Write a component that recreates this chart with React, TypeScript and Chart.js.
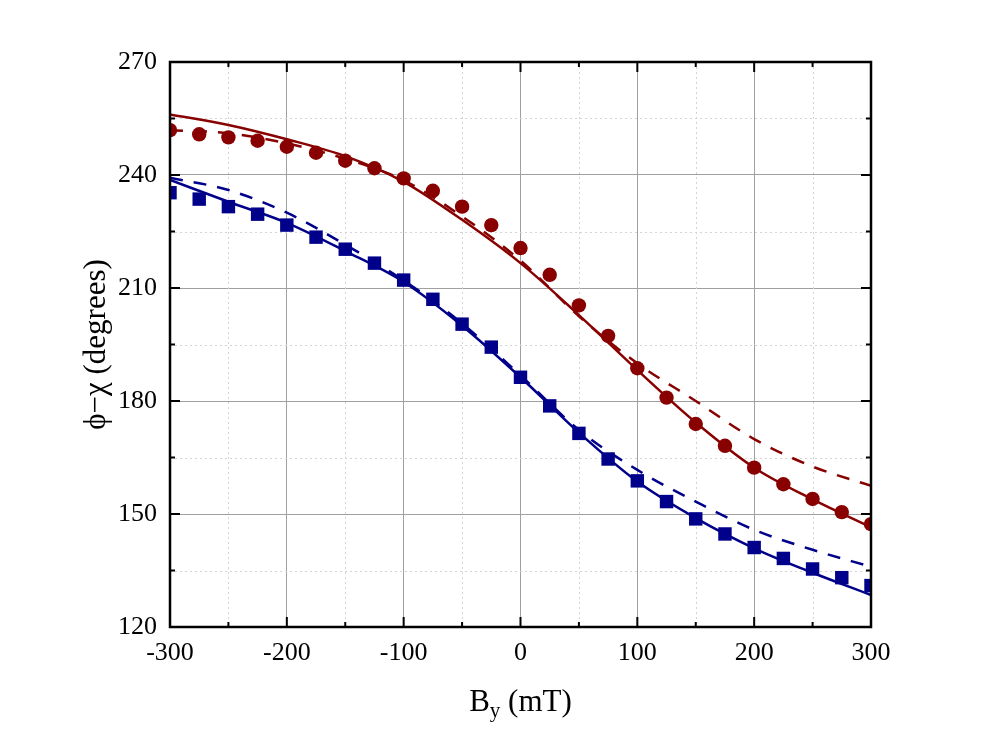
import React, { useEffect, useRef } from "react";
import { Chart, registerables } from "chart.js";

Chart.register(...registerables);

const FONT = "'Liberation Serif', 'Times New Roman', serif";
const RED = "#880000";
const BLUE = "#00008b";

// measured points (mT, degrees)
const fieldMT = [
  -300, -275, -250, -225, -200, -175, -150, -125, -100, -75, -50, -25, 0,
  25, 50, 75, 100, 125, 150, 175, 200, 225, 250, 275, 300,
];
const redPoints = [
  251.9, 250.8, 250.0, 249.1, 247.5, 245.9, 243.8, 241.8, 239.1, 235.8, 231.6,
  226.7, 220.6, 213.5, 205.4, 197.3, 188.7, 180.9, 173.9, 168.1, 162.3, 157.9,
  154.0, 150.5, 147.3,
];
const bluePoints = [
  235.3, 233.6, 231.6, 229.6, 226.7, 223.5, 220.3, 216.6, 212.1, 207.0, 200.4,
  194.3, 186.3, 178.7, 171.4, 164.6, 158.8, 153.3, 148.7, 144.7, 141.1, 138.2,
  135.4, 133.1, 131.0,
];

// model curves
const curveMT = [-300, -250, -200, -150, -100, -50, 0, 50, 100, 150, 200, 250, 300];
const redSolid = [256.1, 253.3, 249.5, 245.0, 238.2, 228.1, 216.6, 202.8, 188.2, 174.3, 162.3, 153.9, 146.5];
const redDashed = [251.9, 251.1, 248.4, 244.3, 238.6, 229.0, 217.3, 202.5, 190.0, 180.0, 169.9, 162.6, 157.5];
const blueSolid = [238.7, 232.9, 227.3, 219.8, 211.6, 200.0, 186.3, 171.6, 158.6, 148.9, 140.9, 134.4, 128.5];
const blueDashed = [239.3, 236.0, 230.0, 221.5, 212.0, 200.6, 186.8, 172.3, 161.7, 153.3, 145.8, 140.5, 136.0];

const xMin = -300;
const xMax = 300;
const yMin = 120;
const yMax = 270;

const xTicks = [-300, -250, -200, -150, -100, -50, 0, 50, 100, 150, 200, 250, 300];
const yTicks = [120, 135, 150, 165, 180, 195, 210, 225, 240, 255, 270];

const toXY = (xs: number[], ys: number[]) => xs.map((x, i) => ({ x, y: ys[i] }));

const framePlugin = {
  id: "originFrame",
  beforeDatasetsDraw(chart: any) {
    const { ctx, chartArea: a, scales } = chart;
    ctx.save();
    ctx.strokeStyle = "#d4d4d4";
    ctx.lineWidth = 1;
    ctx.setLineDash([2, 3]);
    xTicks.forEach((v) => {
      if (v % 100 === 0) return;
      const px = Math.round(scales.x.getPixelForValue(v)) + 0.5;
      ctx.beginPath();
      ctx.moveTo(px, a.top);
      ctx.lineTo(px, a.bottom);
      ctx.stroke();
    });
    yTicks.forEach((v) => {
      if ((v - yMin) % 30 === 0) return;
      const py = Math.round(scales.y.getPixelForValue(v)) + 0.5;
      ctx.beginPath();
      ctx.moveTo(a.left, py);
      ctx.lineTo(a.right, py);
      ctx.stroke();
    });
    ctx.restore();
  },
  afterDatasetsDraw(chart: any) {
    const { ctx, chartArea: a, scales } = chart;
    ctx.save();
    ctx.strokeStyle = "#000";
    ctx.lineWidth = 2.5;
    ctx.strokeRect(a.left, a.top, a.right - a.left, a.bottom - a.top);
    ctx.lineWidth = 2;
    xTicks.forEach((v) => {
      const len = v % 100 === 0 ? 10 : 5;
      const px = scales.x.getPixelForValue(v);
      ctx.beginPath();
      ctx.moveTo(px, a.bottom);
      ctx.lineTo(px, a.bottom - len);
      ctx.moveTo(px, a.top);
      ctx.lineTo(px, a.top + len);
      ctx.stroke();
    });
    yTicks.forEach((v) => {
      const len = (v - yMin) % 30 === 0 ? 10 : 5;
      const py = scales.y.getPixelForValue(v);
      ctx.beginPath();
      ctx.moveTo(a.left, py);
      ctx.lineTo(a.left + len, py);
      ctx.moveTo(a.right, py);
      ctx.lineTo(a.right - len, py);
      ctx.stroke();
    });
    ctx.restore();
  },
  afterDraw(chart: any) {
    const { ctx, chartArea: a } = chart;
    ctx.save();
    ctx.fillStyle = "#000";
    ctx.textBaseline = "alphabetic";
    // x title with subscript
    const big = `31px ${FONT}`;
    const small = `21px ${FONT}`;
    ctx.font = big;
    const wB = ctx.measureText("B").width;
    const wRest = ctx.measureText(" (mT)").width;
    ctx.font = small;
    const wy = ctx.measureText("y").width;
    const total = wB + wy + wRest;
    let x = (a.left + a.right) / 2 - total / 2;
    const base = 711;
    ctx.font = big;
    ctx.fillText("B", x, base);
    x += wB;
    ctx.font = small;
    ctx.fillText("y", x, base + 6);
    x += wy;
    ctx.font = big;
    ctx.fillText(" (mT)", x, base);
    // y title
    ctx.translate(97, (a.top + a.bottom) / 2);
    ctx.rotate(-Math.PI / 2);
    ctx.textAlign = "center";
    ctx.textBaseline = "middle";
    ctx.font = big;
    ctx.fillText("\u03d5\u2212\u03c7 (degrees)", 0, 0);
    ctx.restore();
  },
};

const App: React.FC = () => {
  const canvasRef = useRef<HTMLCanvasElement>(null);
  const chartRef = useRef<Chart>();

  useEffect(() => {
    document.body.style.margin = "0";
    const ctx = canvasRef.current?.getContext("2d");
    if (!ctx) return;
    chartRef.current = new Chart(ctx, {
      type: "line",
      data: {
        datasets: [
          {
            data: toXY(curveMT, redSolid),
            borderColor: RED,
            borderWidth: 2.5,
            pointRadius: 0,
            cubicInterpolationMode: "monotone",
            clip: 0,
          },
          {
            data: toXY(curveMT, redDashed),
            borderColor: RED,
            borderWidth: 2.5,
            borderDash: [13, 11],
            pointRadius: 0,
            cubicInterpolationMode: "monotone",
            clip: 0,
          },
          {
            data: toXY(curveMT, blueSolid),
            borderColor: BLUE,
            borderWidth: 2.5,
            pointRadius: 0,
            cubicInterpolationMode: "monotone",
            clip: 0,
          },
          {
            data: toXY(curveMT, blueDashed),
            borderColor: BLUE,
            borderWidth: 2.5,
            borderDash: [13, 11],
            pointRadius: 0,
            cubicInterpolationMode: "monotone",
            clip: 0,
          },
          {
            data: toXY(fieldMT, redPoints),
            showLine: false,
            pointStyle: "circle",
            pointRadius: 7.2,
            pointBackgroundColor: RED,
            pointBorderWidth: 0,
            borderColor: RED,
            clip: 0,
          },
          {
            data: toXY(fieldMT, bluePoints),
            showLine: false,
            pointStyle: "rect",
            pointRadius: 9.5,
            pointBackgroundColor: BLUE,
            pointBorderWidth: 0,
            borderColor: BLUE,
            clip: 0,
          },
        ] as any,
      },
      options: {
        animation: false,
        responsive: false,
        devicePixelRatio: 1,
        events: [],
        layout: { padding: { top: 62, right: 129, bottom: 0, left: 0 } },
        plugins: {
          legend: { display: false },
          tooltip: { enabled: false },
        },
        scales: {
          x: {
            type: "linear",
            min: xMin,
            max: xMax,
            afterFit: (s: any) => {
              s.height = 117;
            },
            ticks: {
              stepSize: 100,
              padding: 11,
              color: "#000",
              font: { family: FONT, size: 26 },
            },
            grid: { color: "#a0a0a0", lineWidth: 1, drawTicks: false },
            border: { display: false },
          },
          y: {
            type: "linear",
            min: yMin,
            max: yMax,
            afterFit: (s: any) => {
              s.width = 170;
            },
            ticks: {
              stepSize: 30,
              padding: 13,
              color: "#000",
              font: { family: FONT, size: 26 },
            },
            grid: { color: "#a0a0a0", lineWidth: 1, drawTicks: false },
            border: { display: false },
          },
        },
      },
      plugins: [framePlugin],
    });
    return () => {
      chartRef.current?.destroy();
    };
  }, []);

  return (
    <div style={{ width: 1000, height: 744, background: "#fff" }}>
      <canvas ref={canvasRef} width={1000} height={744} style={{ display: "block" }} />
    </div>
  );
};

export default App;
